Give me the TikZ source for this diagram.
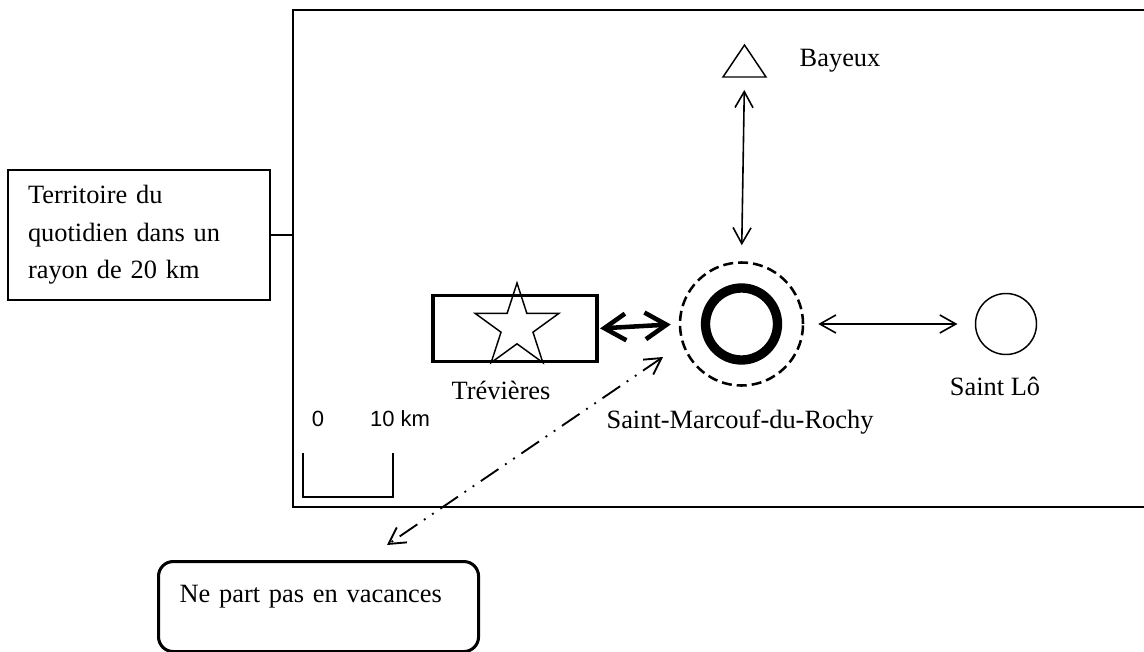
\documentclass[tikz,border=0pt]{standalone}
\usepackage{fontspec}
\setmainfont{Liberation Serif}
\newfontfamily\arialfont{Liberation Sans}
\usetikzlibrary{arrows.meta, shapes.geometric}

\tikzset{
  lieu/.style={font=\fontsize{19.8}{28}\selectfont},
  fleche/.style={{Straight Barb[length=12pt,width=13.5pt]}-{Straight Barb[length=12pt,width=13.5pt]}, line width=1.2pt},
  fleche epaisse/.style={{Straight Barb[length=16pt,width=20pt]}-{Straight Barb[length=16pt,width=20pt]}, line width=3.4pt},
  echelle/.style={font=\arialfont\fontsize{16.5}{18}\selectfont, anchor=base},
}

\begin{document}
\begin{tikzpicture}[x=0.75pt, y=-0.75pt, lieu]
  \useasboundingbox (0,0) rectangle (1144,652);
  % cadre du territoire
  \coordinate (cadre) at (293,10);
  \draw[line width=1.9pt] (1144,10) -- (cadre) -- (293,507) -- (1144,507);
  \node[draw, line width=1.9pt, text width=166.5pt, inner xsep=15pt, minimum height=97.5pt, align=left] (territoire) at (139,235) {Territoire du\\ quotidien dans un\\ rayon de 20 km};
  \draw[line width=1.1pt] (territoire.east) -- (territoire.east -| cadre);

  % Trévières
  \node[draw, line width=2.6pt, minimum width=123pt, minimum height=49.5pt, inner sep=0] (trevieres) at (515,328.5) {};
  \node[draw, star, star points=5, star point ratio=2.618, minimum size=66pt, inner sep=0, line width=1.1pt] (etoile) at (517,327) {};
  \node[anchor=base] (trevieres-l) at (501,399) {Trévières};

  % Saint-Marcouf-du-Rochy
  \node[circle, draw, line width=1.9pt, dash pattern=on 7.5pt off 3.75pt, minimum size=92.25pt, inner sep=0] (smr) at (741.5,324) {};
  \node[circle, draw, line width=7pt, minimum size=54pt, inner sep=0] (smr-c) at (smr) {};
  \node[anchor=base] (smr-l) at (740,428) {Saint-Marcouf-du-Rochy};

  % Saint Lô
  \node[circle, draw, line width=1.1pt, minimum size=45.75pt, inner sep=0] (stlo) at (1006,324) {};
  \node[anchor=base] (stlo-l) at (995,395) {Saint Lô};

  % Bayeux
  \coordinate (bayeux) at (744.5,77);
  \draw[line width=1.1pt, line join=miter] (744.5,45) -- (766,77) -- (723,77) -- cycle;
  \node[anchor=base west] (bayeux-l) at (795,67) {Bayeux};

  % liaisons
  \draw[fleche, shorten <=9.75pt, shorten >=12pt] (bayeux) -- (smr.north);
  \draw[fleche epaisse, shorten <=1pt, shorten >=6pt] (trevieres.east) -- (smr.west);
  \draw[fleche, shorten <=10.5pt, shorten >=13pt] (smr.east) -- (stlo.west);

  % échelle
  \draw[line width=1.1pt] (303,453) -- (303,497) -- (393,497) -- (393,453);
  \node[echelle] (zero) at (318,426) {0};
  \node[echelle] (dix) at (400,426) {10 km};

  % vacances
  \node[draw, rounded corners=11pt, line width=2.3pt, anchor=north west, inner xsep=15.75pt, inner ysep=0, text width=208.5pt, text height=30.75pt, text depth=36.75pt, align=left] (vacances) at (157,560) {Ne part pas en vacances};
  \coordinate (smr-tip) at (663,357);
  \coordinate (vacances-tip) at (387,545);
  \draw[fleche, line width=1.4pt, dash pattern=on 16pt off 6pt on 1.4pt off 6pt on 1.4pt off 6pt] (smr-tip) -- (vacances-tip);
\end{tikzpicture}
\end{document}
